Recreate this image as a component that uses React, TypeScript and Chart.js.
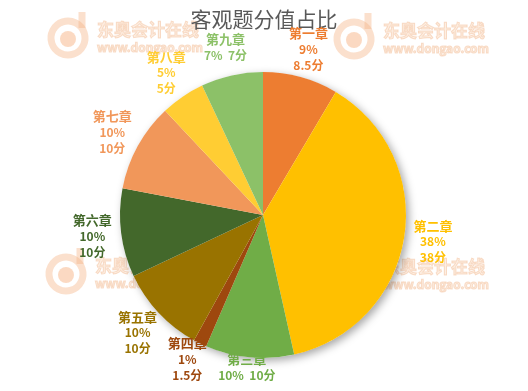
import { useEffect, useRef } from "react";
import { Chart, registerables } from "chart.js";

Chart.register(...registerables);

const title = "客观题分值占比";
const chapters = ["第一章", "第二章", "第三章", "第四章", "第五章", "第六章", "第七章", "第八章", "第九章"];
const scores = [8.5, 38, 10, 1.5, 10, 10, 10, 5, 7];
const percentLabels = ["9%", "38%", "10%", "1%", "10%", "10%", "10%", "5%", "7%"];
const colors = ["#ED7D31", "#FFC000", "#70AD47", "#9E480E", "#997300", "#43682B", "#F1975A", "#FFCD33", "#8CC168"];

const FONT = '"Noto Sans CJK SC", "Noto Sans", sans-serif';

function drawMark(ctx: CanvasRenderingContext2D, tx: number, ty: number) {
  ctx.save();
  const cx = tx - 29;
  const cy = ty + 8;
  ctx.strokeStyle = "rgba(246,178,130,0.4)";
  ctx.lineWidth = 7;
  ctx.beginPath();
  ctx.arc(cx, cy, 17, -Math.PI * 0.35, Math.PI * 1.75);
  ctx.stroke();
  ctx.beginPath();
  ctx.moveTo(cx + 14, cy - 10);
  ctx.lineTo(cx + 14, cy - 26);
  ctx.stroke();
  ctx.fillStyle = "rgba(246,170,120,0.45)";
  ctx.beginPath();
  ctx.arc(cx, cy + 1, 8, 0, Math.PI * 2);
  ctx.fill();
  ctx.textAlign = "left";
  ctx.textBaseline = "middle";
  ctx.font = `bold 17px ${FONT}`;
  ctx.fillStyle = "rgba(252,232,215,0.7)";
  ctx.strokeStyle = "rgba(240,175,130,0.4)";
  ctx.lineWidth = 1;
  ctx.fillText("东奥会计在线", tx, ty, 106);
  ctx.strokeText("东奥会计在线", tx, ty, 106);
  ctx.font = `bold 12px ${FONT}`;
  ctx.fillText("www.dongao.com", tx, ty + 17, 106);
  ctx.strokeText("www.dongao.com", tx, ty + 17, 106);
  ctx.restore();
}

const decorPlugin = {
  id: "decor",
  beforeDraw(chart: any) {
    const ctx = chart.ctx as CanvasRenderingContext2D;
    ctx.save();
    ctx.fillStyle = "#ffffff";
    ctx.fillRect(0, 0, chart.width, chart.height);
    drawMark(ctx, 97, 30);
    drawMark(ctx, 383, 31);
    drawMark(ctx, 95, 266);
    drawMark(ctx, 383, 267);
    ctx.fillStyle = "#595959";
    ctx.font = `21px ${FONT}`;
    ctx.textAlign = "center";
    ctx.textBaseline = "middle";
    ctx.fillText(title, chart.width / 2, 19);
    ctx.restore();
  },
  beforeDatasetsDraw(chart: any) {
    const meta = chart.getDatasetMeta(0);
    if (!meta.data.length) return;
    const p = meta.data[0].getProps(["x", "y", "outerRadius"], true);
    const ctx = chart.ctx as CanvasRenderingContext2D;
    ctx.save();
    ctx.shadowColor = "rgba(0,0,0,0.35)";
    ctx.shadowBlur = 8;
    ctx.shadowOffsetX = 3;
    ctx.shadowOffsetY = 3;
    ctx.fillStyle = "#ffffff";
    ctx.beginPath();
    ctx.arc(p.x, p.y, p.outerRadius, 0, Math.PI * 2);
    ctx.fill();
    ctx.restore();
  },
  afterDatasetsDraw(chart: any) {
    const meta = chart.getDatasetMeta(0);
    const ctx = chart.ctx as CanvasRenderingContext2D;
    ctx.save();
    ctx.textAlign = "center";
    ctx.textBaseline = "middle";
    meta.data.forEach((arc: any, i: number) => {
      const p = arc.getProps(["x", "y", "startAngle", "endAngle", "outerRadius"], true);
      const mid = (p.startAngle + p.endAngle) / 2;
      const R = p.outerRadius + 29;
      const lx = p.x + Math.cos(mid) * R;
      let ly = p.y + Math.sin(mid) * R;
      const inline = Math.abs(Math.cos(mid)) < 0.24;
      const lines = inline
        ? [chapters[i], `${percentLabels[i]}  ${scores[i]}分`]
        : [chapters[i], percentLabels[i], `${scores[i]}分`];
      const lh = 16;
      const blockH = lines.length * lh;
      ly = Math.min(ly, chart.height - blockH / 2 - 8);
      ctx.fillStyle = colors[i];
      lines.forEach((t, k) => {
        ctx.font = k === 0 ? `bold 13px ${FONT}` : `bold 12px ${FONT}`;
        ctx.fillText(t, lx, ly - blockH / 2 + lh * (k + 0.5));
      });
    });
    ctx.restore();
  },
};

export default function App() {
  const ref = useRef<HTMLCanvasElement | null>(null);
  useEffect(() => {
    if (!ref.current) return;
    const chart = new Chart(ref.current, {
      type: "pie",
      data: {
        labels: chapters,
        datasets: [
          {
            data: scores,
            backgroundColor: colors,
            borderWidth: 0,
          },
        ],
      },
      options: {
        animation: false,
        responsive: false,
        layout: { padding: { top: 72, bottom: 33, left: 100, right: 102 } },
        plugins: {
          legend: { display: false },
          tooltip: { enabled: false },
        },
      },
      plugins: [decorPlugin],
    });
    return () => chart.destroy();
  }, []);
  return (
    <div style={{ position: "fixed", left: 0, top: 0, width: 528, height: 391, background: "#fff" }}>
      <canvas ref={ref} width={528} height={391} style={{ display: "block" }} />
    </div>
  );
}
